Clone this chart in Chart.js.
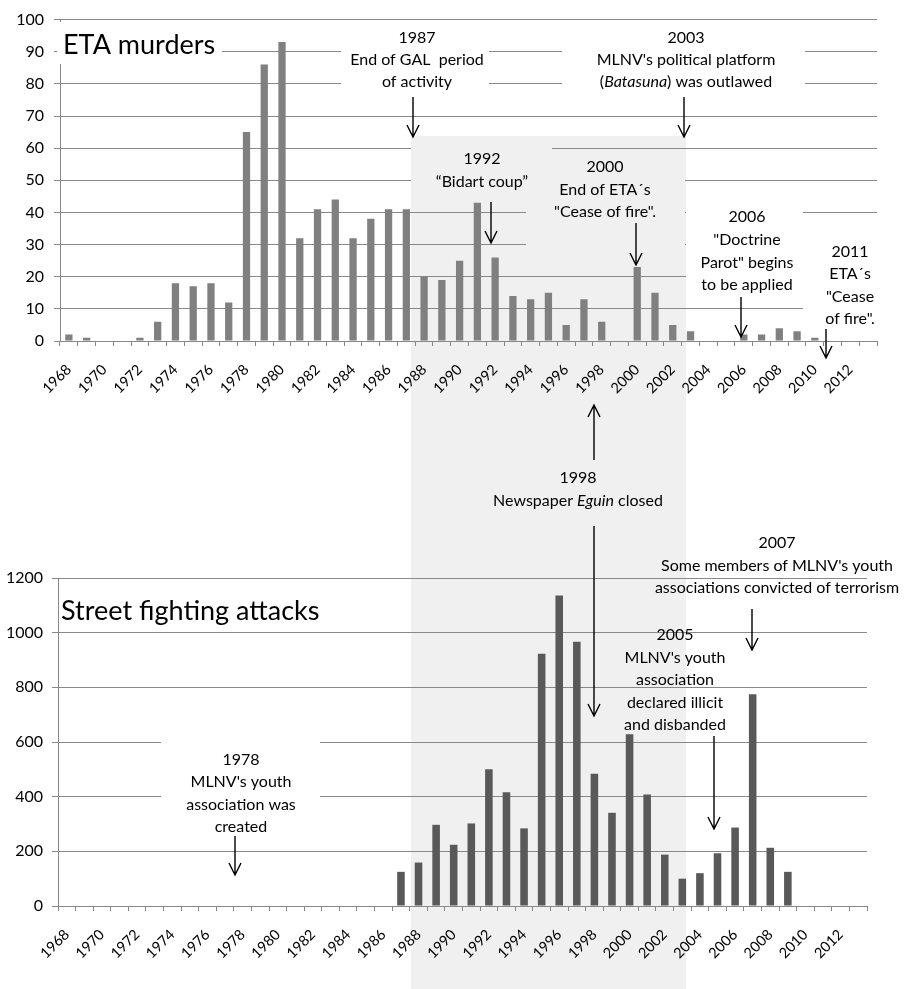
<!DOCTYPE html>
<html>
<head>
<meta charset="utf-8">
<title>ETA murders and street fighting attacks</title>
<script src="https://cdn.jsdelivr.net/npm/chart.js@4.4.1/dist/chart.umd.min.js"></script>
<style>
    html, body { margin: 0; padding: 0; background: #fff; }
    #wrap { position: relative; width: 915px; height: 989px; }
    #wrap canvas { position: absolute; left: 0; top: 0; }
</style>
</head>
<body>
<div id="wrap">
    <canvas id="murders" width="915" height="989"></canvas>
    <canvas id="attacks" width="915" height="989"></canvas>
</div>
<script>
// Years on the category axis (1968 - 2013)
const years = [
    '1968', '1969', '1970', '1971', '1972', '1973', '1974', '1975', '1976', '1977',
    '1978', '1979', '1980', '1981', '1982', '1983', '1984', '1985', '1986', '1987',
    '1988', '1989', '1990', '1991', '1992', '1993', '1994', '1995', '1996', '1997',
    '1998', '1999', '2000', '2001', '2002', '2003', '2004', '2005', '2006', '2007',
    '2008', '2009', '2010', '2011', '2012', '2013'
];

// ETA murders per year
const etaMurders = [
    2, 1, 0, 0, 1, 6, 18, 17, 18, 12,
    65, 86, 93, 32, 41, 44, 32, 38, 41, 41,
    20, 19, 25, 43, 26, 14, 13, 15, 5, 13,
    6, 0, 23, 15, 5, 3, 0, 0, 2, 2,
    4, 3, 1, 0, 0, 0
];

// Street fighting attacks per year (no data before 1987 / after 2009)
const streetAttacks = [
    null, null, null, null, null, null, null, null, null, null,
    null, null, null, null, null, null, null, null, null, 125,
    159, 297, 224, 302, 500, 416, 284, 923, 1136, 967,
    484, 341, 628, 408, 188, 100, 120, 193, 287, 775,
    213, 125, null, null, null, null
];

const murdersTicks = { min: 0, max: 100, step: 10 };
const attacksTicks = { min: 0, max: 1200, step: 200 };

const FONT = 'Lato, "Open Sans", sans-serif';
const GRID = '#888888';
const SHADE = '#f0f0f0';

// Annotation layout (page pixels)
const murdersNotes = {
    shade: { x: 411, y: 136, w: 275, h: 853 },
    boxes: [
        { x: 57, y: 22, w: 165, h: 42, fill: '#fff' },
        { x: 341, y: 27, w: 148, h: 64, fill: '#fff' },
        { x: 562, y: 27, w: 243, h: 64, fill: '#fff' },
        { x: 411, y: 139, w: 141, h: 56, fill: SHADE },
        { x: 526, y: 150, w: 159, h: 100, fill: SHADE },
        { x: 686, y: 196, w: 117, h: 104, fill: '#fff' },
        { x: 803, y: 226, w: 75, h: 104, fill: '#fff' }
    ],
    titles: [{ text: 'ETA murders', x: 63, y: 45 }],
    texts: [
        { cx: 417, y: 38, lh: 22, lines: ['1987', 'End of GAL  period', 'of activity'] },
        { cx: 686, y: 38, lh: 22, lines: ['2003', "MLNV's political platform",
            [['(', false], ['Batasuna', true], [') was outlawed', false]]] },
        { cx: 482, y: 159, lh: 23, lines: ['1992', '\u201cBidart coup\u201d'] },
        { cx: 605, y: 167, lh: 22.5, lines: ['2000', 'End of ETA\u00b4s', '"Cease of fire".'] },
        { cx: 747, y: 217, lh: 22.7, lines: ['2006', '"Doctrine', 'Parot" begins', 'to be applied'] },
        { cx: 850, y: 252, lh: 22.3, lines: ['2011', 'ETA\u00b4s', '"Cease', 'of fire".'] }
    ],
    arrows: [
        { x: 413, y1: 97, y2: 137 },
        { x: 684, y1: 97, y2: 137 },
        { x: 491, y1: 202, y2: 243 },
        { x: 636, y1: 223, y2: 265 },
        { x: 741, y1: 297, y2: 337 },
        { x: 826, y1: 329, y2: 358 }
    ]
};

const attacksNotes = {
    boxes: [
        { x: 161, y: 730, w: 159, h: 108, fill: '#fff' }
    ],
    titles: [{ text: 'Street fighting attacks', x: 61, y: 611 }],
    texts: [
        { cx: 241, y: 760, lh: 22.3, lines: ['1978', "MLNV's youth", 'association was', 'created'] },
        { cx: 578, y: 478, lh: 23, lines: ['1998',
            [['Newspaper ', false], ['Eguin', true], [' closed', false]]] },
        { cx: 777, y: 543, lh: 22.5, lines: ['2007', "Some members of MLNV's youth",
            'associations convicted of terrorism'] },
        { cx: 675, y: 635, lh: 22.5, lines: ['2005', "MLNV's youth", 'association',
            'declared illicit', 'and disbanded'] }
    ],
    arrows: [
        { x: 594, y1: 460, y2: 405 },
        { x: 594, y1: 526, y2: 716 },
        { x: 752, y1: 609, y2: 650 },
        { x: 714, y1: 736, y2: 829 },
        { x: 235, y1: 836, y2: 875 }
    ]
};

function fontStr(italic, size) {
    return (italic ? 'italic ' : '') + size + 'px ' + FONT;
}

function drawLine(ctx, line, cx, y, size) {
    const segs = typeof line === 'string' ? [[line, false]] : line;
    const widths = segs.map(([t, it]) => {
        ctx.font = fontStr(it, size);
        return ctx.measureText(t).width;
    });
    let x = cx - widths.reduce((a, b) => a + b, 0) / 2;
    segs.forEach(([t, it], k) => {
        ctx.font = fontStr(it, size);
        ctx.fillText(t, x, y);
        x += widths[k];
    });
}

function drawArrow(ctx, a) {
    const dir = a.y2 > a.y1 ? 1 : -1;
    ctx.beginPath();
    ctx.moveTo(a.x, a.y1);
    ctx.lineTo(a.x, a.y2);
    ctx.moveTo(a.x - 6, a.y2 - dir * 12);
    ctx.lineTo(a.x, a.y2);
    ctx.lineTo(a.x + 6, a.y2 - dir * 12);
    ctx.stroke();
}

function notesPlugin(notes) {
    return {
        id: 'notes',
        beforeDraw(chart) {
            if (!notes.shade) return;
            const ctx = chart.ctx, s = notes.shade;
            ctx.save();
            ctx.fillStyle = SHADE;
            ctx.fillRect(s.x, s.y, s.w, s.h);
            ctx.restore();
        },
        beforeDatasetsDraw(chart) {
            const ctx = chart.ctx;
            ctx.save();
            notes.boxes.forEach(b => {
                ctx.fillStyle = b.fill;
                ctx.fillRect(b.x, b.y, b.w, b.h);
            });
            ctx.restore();
        },
        afterDraw(chart) {
            const ctx = chart.ctx;
            ctx.save();
            ctx.fillStyle = '#000';
            ctx.strokeStyle = '#000';
            ctx.lineWidth = 1.4;
            ctx.textBaseline = 'middle';
            ctx.textAlign = 'left';
            notes.titles.forEach(t => {
                ctx.font = fontStr(false, 27);
                ctx.fillText(t.text, t.x, t.y);
            });
            notes.texts.forEach(n => {
                n.lines.forEach((line, i) => drawLine(ctx, line, n.cx, n.y + i * n.lh, 16));
            });
            notes.arrows.forEach(a => drawArrow(ctx, a));
            ctx.restore();
        }
    };
}

function makeChart(canvasId, values, color, range, box, notes) {
    const ctx = document.getElementById(canvasId).getContext('2d');
    return new Chart(ctx, {
        type: 'bar',
        data: {
            labels: years,
            datasets: [{
                data: values,
                backgroundColor: color,
                borderWidth: 0,
                barPercentage: box.barPct,
                categoryPercentage: 1
            }]
        },
        options: {
            responsive: false,
            animation: false,
            events: [],
            layout: { padding: box.padding },
            plugins: { legend: { display: false }, tooltip: { enabled: false } },
            scales: {
                x: {
                    offset: true,
                    grid: { offset: true, drawOnChartArea: false, drawTicks: true, tickLength: 5, color: GRID },
                    border: { display: true, color: GRID },
                    ticks: {
                        autoSkip: false,
                        minRotation: 45,
                        maxRotation: 45,
                        padding: 15,
                        color: '#000',
                        font: { family: FONT, size: 14.5 },
                        callback: (v, i) => (i % 2 === 0 ? years[i] : '')
                    },
                    afterFit(scale) { scale.height = 60; }
                },
                y: {
                    min: range.min,
                    max: range.max,
                    grid: { color: GRID, tickLength: 6 },
                    border: { color: GRID },
                    ticks: {
                        stepSize: range.step,
                        padding: box.yPad,
                        color: '#000',
                        font: { family: FONT, size: 16 },
                        callback: v => String(v)
                    },
                    afterFit(scale) { scale.width = box.yWidth; }
                }
            }
        },
        plugins: [notesPlugin(notes)]
    });
}

function build() {
    makeChart('murders', etaMurders, '#808080', murdersTicks,
        { padding: { left: 0, right: 38, top: 13, bottom: 588 }, yWidth: 60, yPad: 10, barPct: 0.41 },
        murdersNotes);
    makeChart('attacks', streetAttacks, '#595959', attacksTicks,
        { padding: { left: 0, right: 48, top: 578, bottom: 23 }, yWidth: 58, yPad: 9, barPct: 0.43 },
        attacksNotes);
}

if (document.fonts && document.fonts.load) {
    Promise.all([
        document.fonts.load('15px Lato'),
        document.fonts.load('italic 15px Lato')
    ]).then(build, build);
} else {
    build();
}
</script>
</body>
</html>
